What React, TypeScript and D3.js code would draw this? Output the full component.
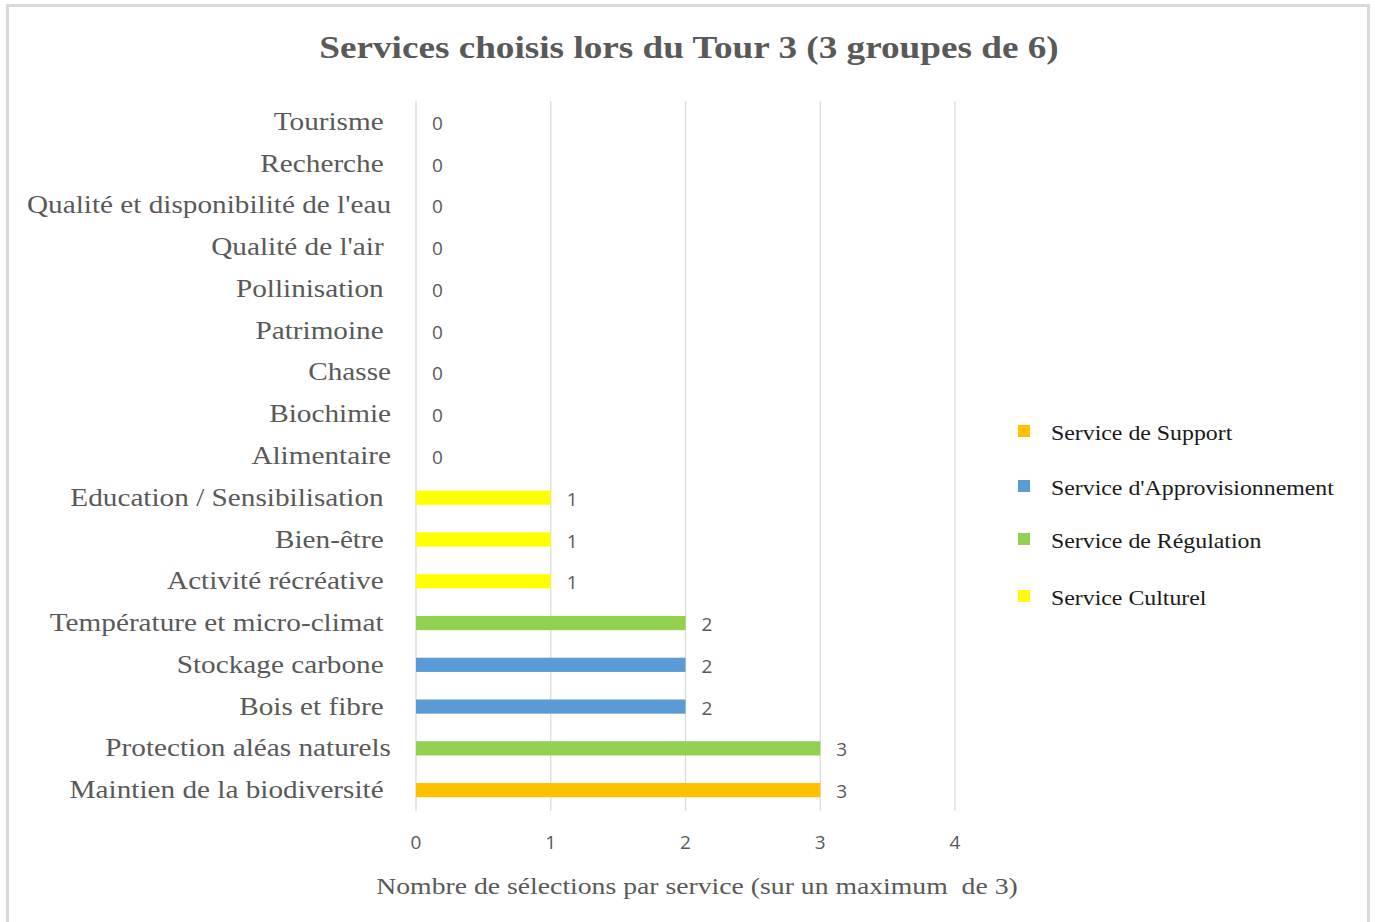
import React from "react";
import * as d3 from "d3";

const categories = [
  "Maintien de la biodiversité ",
  "Protection aléas naturels",
  "Bois et fibre ",
  "Stockage carbone ",
  "Température et micro-climat ",
  "Activité récréative ",
  "Bien-être ",
  "Education / Sensibilisation ",
  "Alimentaire",
  "Biochimie",
  "Chasse",
  "Patrimoine ",
  "Pollinisation ",
  "Qualité de l'air ",
  "Qualité et disponibilité de l'eau",
  "Recherche ",
  "Tourisme ",
];
const values = [3, 3, 2, 2, 2, 1, 1, 1, 0, 0, 0, 0, 0, 0, 0, 0, 0];
const serviceTypes = [
  "Service de Support",
  "Service de Régulation",
  "Service d'Approvisionnement",
  "Service d'Approvisionnement",
  "Service de Régulation",
  "Service Culturel",
  "Service Culturel",
  "Service Culturel",
  "Service d'Approvisionnement",
  "Service d'Approvisionnement",
  "Service d'Approvisionnement",
  "Service Culturel",
  "Service de Régulation",
  "Service de Régulation",
  "Service de Régulation",
  "Service Culturel",
  "Service Culturel",
];
const legendNames = [
  "Service de Support",
  "Service d'Approvisionnement",
  "Service de Régulation",
  "Service Culturel",
];
const legendColors = ["#FFC000", "#5B9BD5", "#92D050", "#FFFF00"];
const xTicks = [0, 1, 2, 3, 4];

const W = 1375;
const H = 922;
const plot = { left: 416, right: 955, top: 101, bottom: 811 };

export default function App() {
  const x = d3.scaleLinear().domain([0, 4]).range([plot.left, plot.right]);
  const y = d3
    .scaleBand<string>()
    .domain([...categories].reverse())
    .range([plot.top, plot.bottom])
    .paddingInner(0.66)
    .paddingOuter(0.33);
  const color = d3.scaleOrdinal<string, string>().domain(legendNames).range(legendColors);
  const serif = "'Liberation Serif', 'Times New Roman', serif";
  const sans = "'Open Sans', 'Liberation Sans', sans-serif";
  const grey = "#595959";

  return (
    <svg
      width={W}
      height={H}
      style={{ position: "absolute", left: 0, top: 0, background: "#fff" }}
    >
      <rect x={7.5} y={5.5} width={1361} height={930} fill="#fff" stroke="#d9d9d9" strokeWidth={3} />
      <text
        transform={`translate(689,58) scale(1.2,1)`}
        textAnchor="middle"
        fontFamily={serif}
        fontWeight="bold"
        fontSize={31}
        fill={grey}
      >
        Services choisis lors du Tour 3 (3 groupes de 6)
      </text>
      {xTicks.map((t) => (
        <g key={t}>
          <line
            x1={x(t)}
            x2={x(t)}
            y1={plot.top}
            y2={plot.bottom}
            stroke="#d9d9d9"
            strokeWidth={1.2}
          />
          <text x={x(t)} y={849} textAnchor="middle" fontFamily={sans} fontSize={19} fill={grey}>
            {t}
          </text>
        </g>
      ))}
      {categories.map((c, i) => {
        const yy = y(c)!;
        const bw = y.bandwidth();
        return (
          <g key={c}>
            {values[i] > 0 && (
              <rect
                x={x(0)}
                y={yy}
                width={x(values[i]) - x(0)}
                height={bw}
                fill={color(serviceTypes[i])}
              />
            )}
            <text
              x={x(values[i]) + 16}
              y={yy + bw / 2 + 8}
              fontFamily={sans}
              fontSize={19}
              fill={grey}
            >
              {values[i]}
            </text>
            <text
              transform={`translate(391,${yy + bw / 2 + 8}) scale(1.17,1)`}
              textAnchor="end"
              fontFamily={serif}
              fontSize={25}
              fill={grey}
              style={{ whiteSpace: "pre" }}
            >
              {c}
            </text>
          </g>
        );
      })}
      <text
        transform="translate(697,894) scale(1.155,1)"
        textAnchor="middle"
        fontFamily={serif}
        fontSize={24}
        fill={grey}
        style={{ whiteSpace: "pre" }}
      >
        Nombre de sélections par service (sur un maximum  de 3)
      </text>
      {legendNames.map((n, i) => {
        const ly = [433, 488, 541, 598][i];
        return (
          <g key={n}>
            <rect x={1018} y={ly - 8} width={12} height={12} fill={legendColors[i]} />
            <text
              transform={`translate(1051,${ly + 7}) scale(1.135,1)`}
              fontFamily={serif}
              fontSize={21}
              fill="#1a1a1a"
            >
              {n}
            </text>
          </g>
        );
      })}
    </svg>
  );
}
